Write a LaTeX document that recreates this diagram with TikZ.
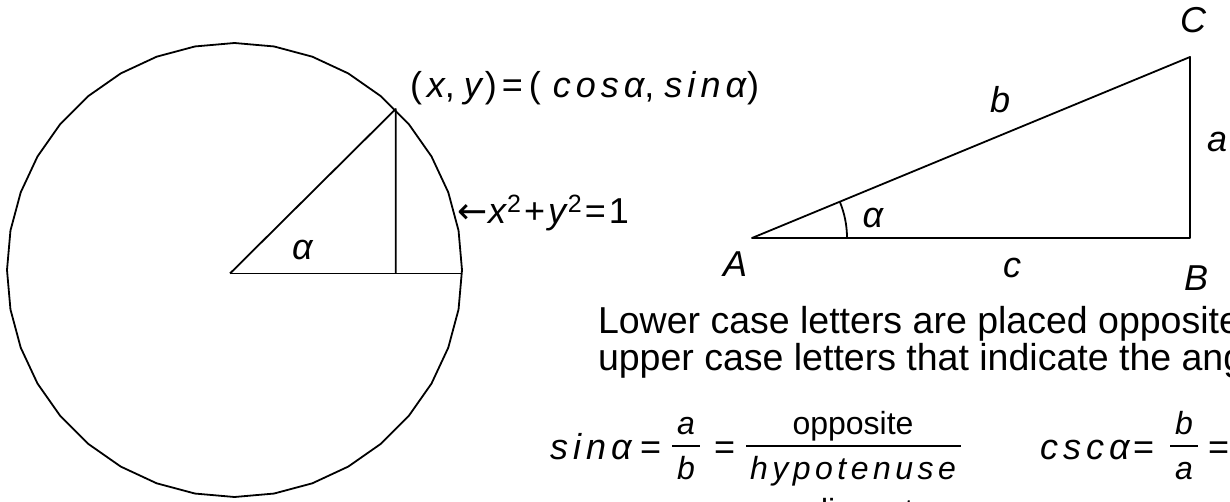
\documentclass[tikz,border=0pt]{standalone}
\usepackage{fontspec}
\setmainfont{Liberation Sans}
\newfontfamily\lspfam[LetterSpace=14]{Liberation Sans}
\newfontfamily\djvfam{DejaVu Sans}
\newcommand{\szf}[1]{\fontsize{#1}{#1}\selectfont}
\newcommand{\fnm}[1]{{\lspfam\itshape #1}}
\newcommand{\sqr}{\raisebox{11pt}{\szf{25}2}}
\begin{document}
\begin{tikzpicture}[x=1pt,y=-1pt,line width=1.8pt,line join=round,
  every node/.style={inner sep=0pt,outer sep=0pt},
  big/.style={font=\szf{36}},
  body/.style={font=\szf{37.5}},
  frac/.style={font=\szf{32}},
  lbl/.style={font=\szf{36}\itshape}]
\useasboundingbox (0,0) rectangle (1230,502);
\clip (0,0) rectangle (1230,502);
% unit circle
\draw plot[samples=37,domain=90:450] ({234.5+227.5*cos(\x)},{270-227*sin(\x)}) -- cycle;
\coordinate (O) at (230,273.5);
\coordinate (P) at (395.7,109);
\coordinate (Q) at (395.7,273.5);
\coordinate (R) at (461.6,273.5);
\draw (O) -- (P) -- (Q);
\draw (O) -- (R);
\node[lbl,anchor=base west] (al1) at (292,260) {α};
\node[big,anchor=base west] (pt) at (410,98) {(\kern5pt\textit{x},\kern9pt\textit{y}\kern1pt)\kern5pt=\kern6pt(\kern12pt\fnm{cosα},\kern10pt\fnm{sinα}\kern1pt)};
\node[big,anchor=base west] (eq) at (457,224) {{\djvfam ←}\kern1pt\textit{x}\sqr\kern3pt+\kern3pt\textit{y}\sqr\kern3pt=\kern3pt1};
% triangle
\coordinate (A) at (752,238);
\coordinate (B) at (1190,238);
\coordinate (C) at (1190,57);
\draw (A) -- (B) -- (C) -- cycle;
\draw ([shift={(95,0)}]A) arc[start angle=0,end angle=-22.45,radius=95];
\node[lbl] (lC) at (1193,20) {C};
\node[lbl] (la) at (1217,142) {a};
\node[lbl] (lb) at (1000,100) {b};
\node[lbl] (lal) at (873,218) {α};
\node[lbl] (lA) at (735,264) {A};
\node[lbl] (lc) at (1012,268) {c};
\node[lbl] (lB) at (1196,278) {B};
% text
\node[body,anchor=base west] (t1) at (598,333) {Lower case letters are placed opposite};
\node[body,anchor=base west] (t2) at (598,370) {upper case letters that indicate the angles};
% formulas
\node[big,anchor=base west] (sin) at (550,459) {\fnm{sinα}};
\node[big,anchor=base west] (e1) at (640,459) {=};
\node[frac,anchor=base] (n1) at (686,434) {\textit{a}};
\node[frac,anchor=base] (d1) at (686,479) {\textit{b}};
\coordinate (b1l) at (672,446); \coordinate (b1r) at (700,446);
\draw (b1l) -- (b1r);
\node[big,anchor=base west] (e2) at (714,459) {=};
\node[frac,anchor=base] (n2) at (853,434) {opposite};
\node[frac,anchor=base] (d2) at (853,479) {\fnm{hypotenuse}};
\coordinate (b2l) at (746,446); \coordinate (b2r) at (961,446);
\draw (b2l) -- (b2r);
\node[frac,anchor=base] (n3) at (853,521) {adjacent};
\node[big,anchor=base west] (csc) at (1040,459) {\fnm{cscα}};
\node[big,anchor=base west] (e3) at (1133,459) {=};
\node[frac,anchor=base] (n4) at (1184,434) {\textit{b}};
\node[frac,anchor=base] (d4) at (1184,479) {\textit{a}};
\coordinate (b4l) at (1170,446); \coordinate (b4r) at (1198,446);
\draw (b4l) -- (b4r);
\node[big,anchor=base west] (e4) at (1208,459) {=};
\end{tikzpicture}
\end{document}
